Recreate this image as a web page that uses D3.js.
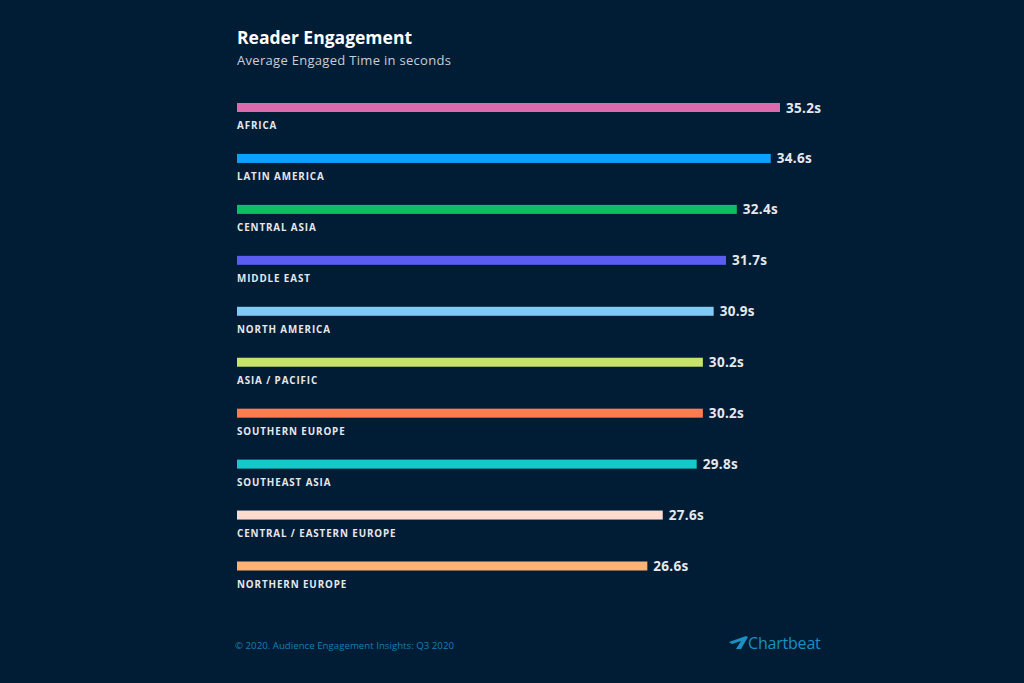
<!DOCTYPE html>
<html><head><meta charset="utf-8">
<script src="https://cdn.jsdelivr.net/npm/d3@7"></script>
<style>
html,body{margin:0;padding:0;background:#011c35;}
svg{display:block;}
</style></head>
<body>
<script>
const regions = ["AFRICA","LATIN AMERICA","CENTRAL ASIA","MIDDLE EAST","NORTH AMERICA","ASIA / PACIFIC","SOUTHERN EUROPE","SOUTHEAST ASIA","CENTRAL / EASTERN EUROPE","NORTHERN EUROPE"];
const engagedSeconds = [35.2,34.6,32.4,31.7,30.9,30.2,30.2,29.8,27.6,26.6];
const barColors = ["#dc6bae","#0aa2ff","#0cbf64","#5b5cf2","#80cbf6","#c8e26c","#ff7b52","#14c9c9","#ffdacd","#ffb273"];
const title = "Reader Engagement";
const subtitle = "Average Engaged Time in seconds";
const footer = "© 2020. Audience Engagement Insights: Q3 2020";
const brand = "Chartbeat";

const W = 1024, H = 683;
const svg = d3.select("body").append("svg").attr("width", W).attr("height", H);
svg.append("rect").attr("width", W).attr("height", H).attr("fill", "#011c35");

const font = "'Open Sans', Lato, sans-serif";
const x = d3.scaleLinear().domain([0, 35.2]).range([237, 780]);
const y = d3.scalePoint().domain(regions).range([107.5, 566]);

svg.append("text").attr("x", 237).attr("y", 44).attr("fill", "#ffffff")
  .attr("font-family", font).attr("font-weight", 700).attr("font-size", 17.5).text(title);
svg.append("text").attr("x", 237).attr("y", 65).attr("fill", "#c9ced6")
  .attr("font-family", font).attr("font-weight", 500).attr("font-size", 13)
  .attr("letter-spacing", 0.3).text(subtitle);

const data = regions.map((r, i) => ({r, v: engagedSeconds[i], c: barColors[i]}));
const g = svg.append("g");
const row = g.selectAll("g.row").data(data).join("g").attr("class", "row");
row.append("rect").attr("x", x(0)).attr("y", d => y(d.r) - 4.5)
  .attr("width", d => x(d.v) - x(0)).attr("height", 9).attr("fill", d => d.c);
row.append("text").attr("x", x(0)).attr("y", d => y(d.r) + 21.5)
  .attr("fill", "#e6e8ec").attr("font-family", font).attr("font-weight", 700)
  .attr("font-size", 9.8).attr("letter-spacing", 0.9).text(d => d.r);
row.append("text").attr("x", d => x(d.v) + 6).attr("y", d => y(d.r) + 5)
  .attr("fill", "#e6e8ec").attr("font-family", font).attr("font-weight", 700)
  .attr("font-size", 13.5).attr("letter-spacing", 0.3).text(d => d.v.toFixed(1) + "s");

svg.append("text").attr("x", 235).attr("y", 649).attr("fill", "#137fb3")
  .attr("font-family", font).attr("font-size", 9.7).text(footer);
// logo mark
svg.append("path").attr("d", "M729,642 L746,636 L748,637 L741,649 L736,649 L741,641 L732,644 Z").attr("fill", "#1a90c4");
svg.append("text").attr("x", 748).attr("y", 649).attr("fill", "#1a90c4")
  .attr("font-family", font).attr("font-size", 16).attr("letter-spacing", -0.2).text(brand);
</script>
</body></html>
